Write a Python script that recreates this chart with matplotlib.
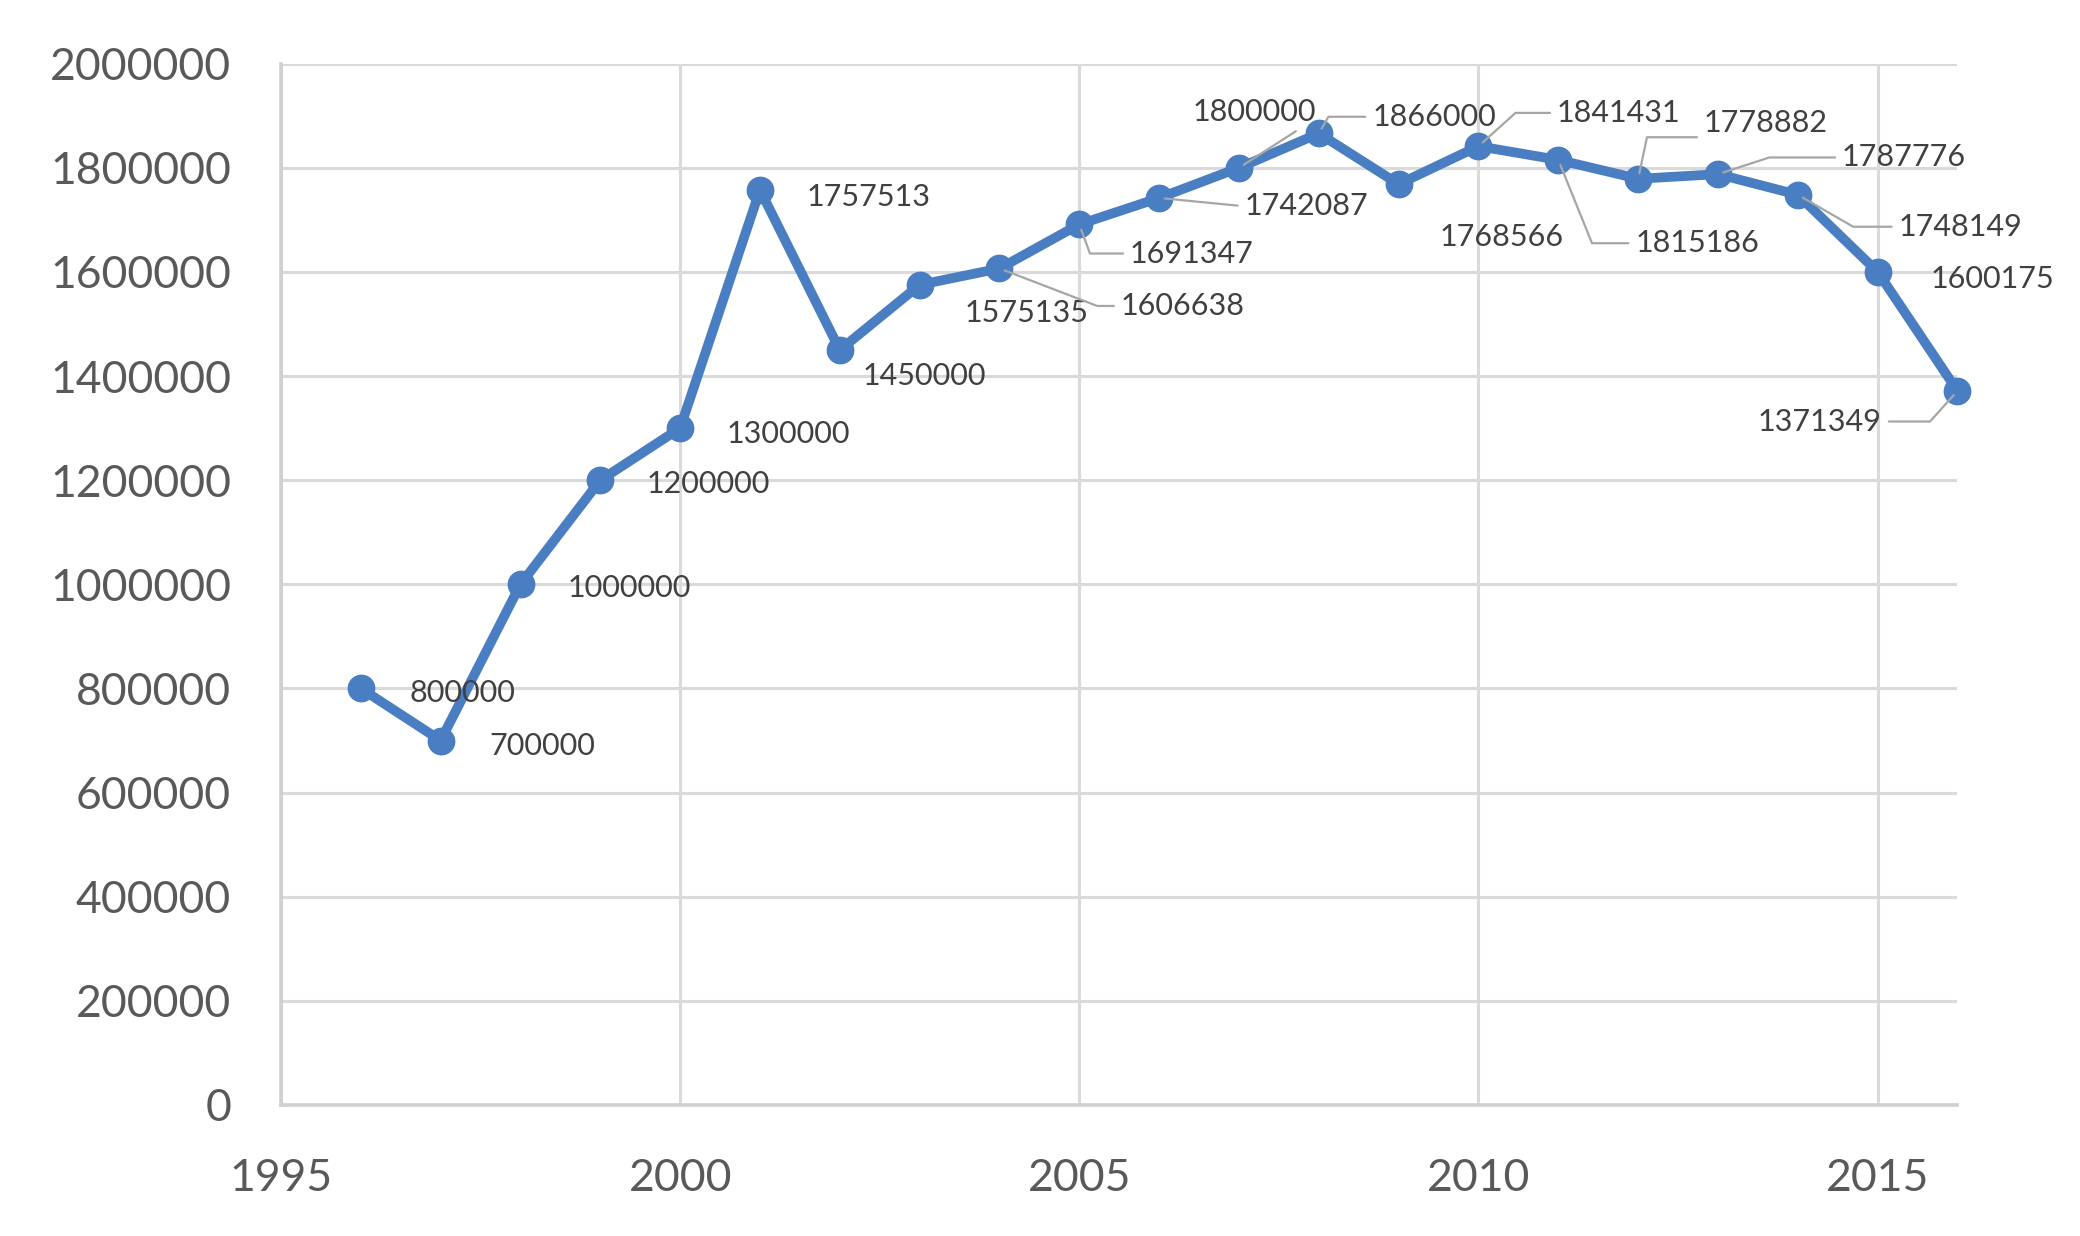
import matplotlib
matplotlib.use("Agg")
import matplotlib.pyplot as plt

years = [1996, 1997, 1998, 1999, 2000, 2001, 2002, 2003, 2004, 2005, 2006,
         2007, 2008, 2009, 2010, 2011, 2012, 2013, 2014, 2015, 2016]
values = [800000, 700000, 1000000, 1200000, 1300000, 1757513, 1450000,
          1575135, 1606638, 1691347, 1742087, 1800000, 1866000, 1768566,
          1841431, 1815186, 1778882, 1787776, 1748149, 1600175, 1371349]
x_ticks = [1995, 2000, 2005, 2010, 2015]
y_ticks = [0, 200000, 400000, 600000, 800000, 1000000, 1200000, 1400000,
           1600000, 1800000, 2000000]

# label offsets (points) and leader-line angle (None = no leader, 'straight' = straight line)
label_dx = [73, 73, 78, 78, 78, 78, 61, 77, 132, 81, 106, 11, 83, 74, 101, 100, 92, 134, 117, 83, -99]
label_dy = [-3, -4, -3, -3, -4, -5, -19, -20, -27, -21, -6, 40, 12, -38, 24, -60, 40, 12, -23, -5, -22]
leader = [None, None, None, None, None, None, None, None, -21, -70, 'straight', 'straight',
          60, None, 42, -68, 78, 18, -30, None, 48]

plt.rcParams['font.family'] = ['Lato', 'DejaVu Sans']

fig = plt.figure(figsize=(20.8, 12.36), dpi=100)
ax = fig.add_axes([0.1351, 0.106, 0.806, 0.8425])

line_color = '#4A7EC2'
ax.plot(years, values, color=line_color, lw=7, marker='o', markersize=19,
        solid_joinstyle='round', zorder=3, clip_on=False)

ax.set_xlim(1995, 2016)
ax.set_ylim(0, 2000000)
ax.set_xticks(x_ticks)
ax.set_yticks(y_ticks)
ax.set_xticklabels([str(t) for t in x_ticks])
ax.set_yticklabels([str(t) for t in y_ticks])
ax.tick_params(axis='both', length=0, labelsize=32, labelcolor='#595959')
ax.tick_params(axis='y', pad=36)
ax.tick_params(axis='x', pad=38)

ax.grid(True, color='#DADADA', lw=2.2)
ax.set_axisbelow(True)
for s in ['top', 'right']:
    ax.spines[s].set_visible(False)
for s in ['left', 'bottom']:
    ax.spines[s].set_color('#D0D0D0')
    ax.spines[s].set_linewidth(2.6)

for i, (x, y) in enumerate(zip(years, values)):
    dx, dy = label_dx[i], label_dy[i]
    lead = leader[i]
    kw = {}
    if lead is not None:
        if lead == 'straight':
            cs = 'arc3'
        else:
            cs = 'angle,angleA=0,angleB=%d,rad=0' % lead
        if dx > 0 and dy < 30:
            rel = (0.0, 0.5)
        elif dx < 0:
            rel = (1.0, 0.5)
        else:
            rel = (0.9, 0.0)
        kw['arrowprops'] = dict(arrowstyle='-', color='#A6A6A6', lw=1.6,
                                connectionstyle=cs, relpos=rel,
                                shrinkA=3, shrinkB=4)
    ax.annotate(str(values[i]), xy=(x, y), xytext=(dx, dy),
                textcoords='offset points', ha='center', va='center',
                fontsize=22, color='#404040', zorder=4, **kw)

fig.savefig('out.png', dpi=100, facecolor='white')
